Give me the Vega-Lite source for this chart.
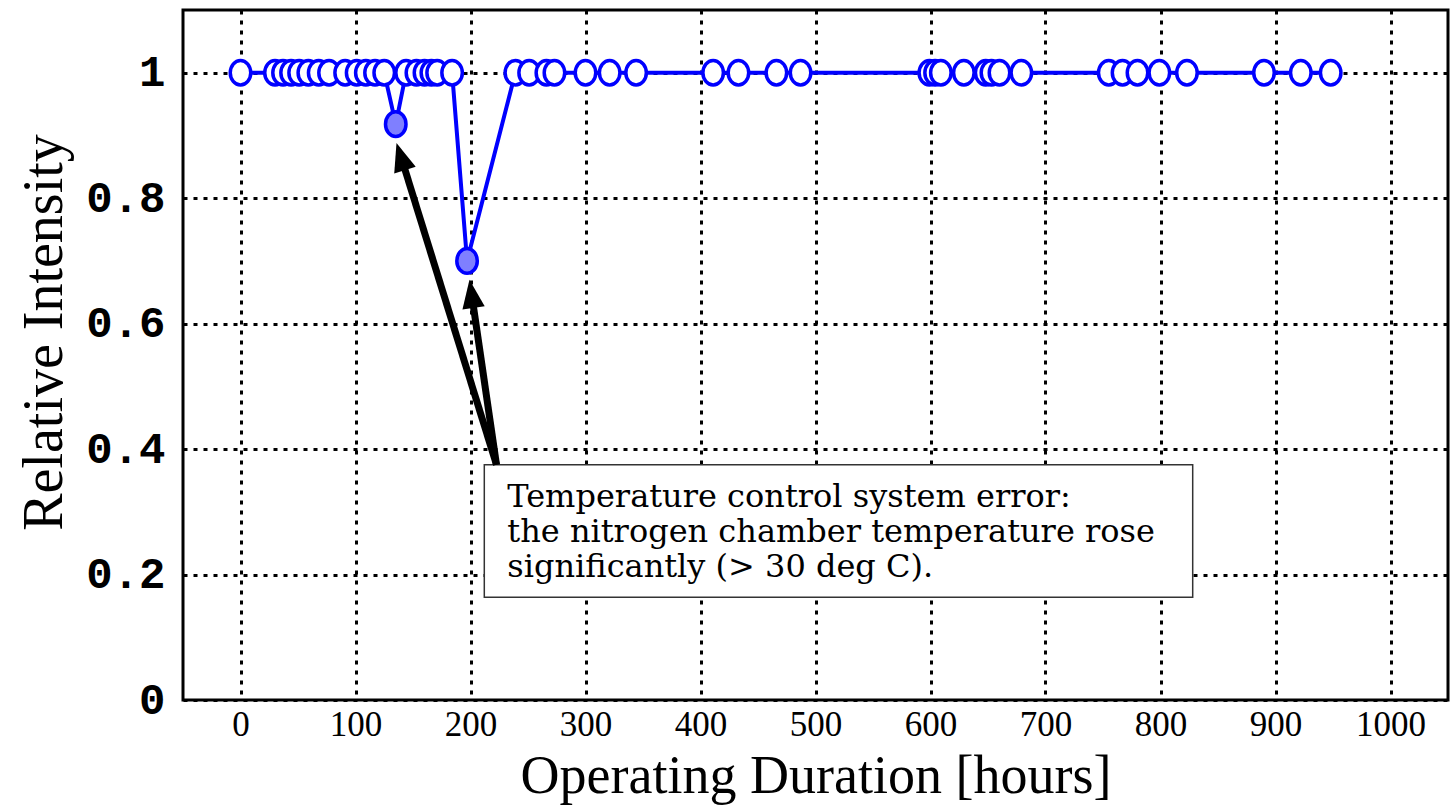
{
  "$schema": "https://vega.github.io/schema/vega-lite/v6.json",
  "width": 1265,
  "height": 690,
  "autosize": {"type": "none"},
  "padding": {"left": 183, "top": 10, "right": 2, "bottom": 105},
  "background": "white",
  "config": {
    "view": {"stroke": "black", "strokeWidth": 3},
    "axis": {
      "grid": true,
      "gridColor": "black",
      "gridDash": [4, 6],
      "gridWidth": 3,
      "gridOpacity": 1,
      "ticks": false,
      "domain": false,
      "labelColor": "black",
      "titleColor": "black",
      "titleFontWeight": "normal"
    }
  },
  "datasets": {
    "series": [
      {"hours": 0, "intensity": 1, "kind": "normal"},
      {"hours": 30, "intensity": 1, "kind": "normal"},
      {"hours": 37, "intensity": 1, "kind": "normal"},
      {"hours": 44, "intensity": 1, "kind": "normal"},
      {"hours": 51, "intensity": 1, "kind": "normal"},
      {"hours": 59, "intensity": 1, "kind": "normal"},
      {"hours": 68, "intensity": 1, "kind": "normal"},
      {"hours": 77, "intensity": 1, "kind": "normal"},
      {"hours": 91, "intensity": 1, "kind": "normal"},
      {"hours": 101, "intensity": 1, "kind": "normal"},
      {"hours": 109, "intensity": 1, "kind": "normal"},
      {"hours": 117, "intensity": 1, "kind": "normal"},
      {"hours": 125, "intensity": 1, "kind": "normal"},
      {"hours": 135, "intensity": 0.918, "kind": "drop"},
      {"hours": 144, "intensity": 1, "kind": "normal"},
      {"hours": 153, "intensity": 1, "kind": "normal"},
      {"hours": 160, "intensity": 1, "kind": "normal"},
      {"hours": 166, "intensity": 1, "kind": "normal"},
      {"hours": 171, "intensity": 1, "kind": "normal"},
      {"hours": 184, "intensity": 1, "kind": "normal"},
      {"hours": 197, "intensity": 0.7, "kind": "drop"},
      {"hours": 239, "intensity": 1, "kind": "normal"},
      {"hours": 251, "intensity": 1, "kind": "normal"},
      {"hours": 266, "intensity": 1, "kind": "normal"},
      {"hours": 273, "intensity": 1, "kind": "normal"},
      {"hours": 300, "intensity": 1, "kind": "normal"},
      {"hours": 321, "intensity": 1, "kind": "normal"},
      {"hours": 344, "intensity": 1, "kind": "normal"},
      {"hours": 411, "intensity": 1, "kind": "normal"},
      {"hours": 433, "intensity": 1, "kind": "normal"},
      {"hours": 466, "intensity": 1, "kind": "normal"},
      {"hours": 487, "intensity": 1, "kind": "normal"},
      {"hours": 599, "intensity": 1, "kind": "normal"},
      {"hours": 604, "intensity": 1, "kind": "normal"},
      {"hours": 609, "intensity": 1, "kind": "normal"},
      {"hours": 629, "intensity": 1, "kind": "normal"},
      {"hours": 648, "intensity": 1, "kind": "normal"},
      {"hours": 653, "intensity": 1, "kind": "normal"},
      {"hours": 660, "intensity": 1, "kind": "normal"},
      {"hours": 679, "intensity": 1, "kind": "normal"},
      {"hours": 755, "intensity": 1, "kind": "normal"},
      {"hours": 767, "intensity": 1, "kind": "normal"},
      {"hours": 780, "intensity": 1, "kind": "normal"},
      {"hours": 799, "intensity": 1, "kind": "normal"},
      {"hours": 823, "intensity": 1, "kind": "normal"},
      {"hours": 890, "intensity": 1, "kind": "normal"},
      {"hours": 922, "intensity": 1, "kind": "normal"},
      {"hours": 948, "intensity": 1, "kind": "normal"}
    ]
  },
  "encoding": {
    "x": {
      "field": "hours",
      "type": "quantitative",
      "scale": {"domain": [-50, 1050], "nice": false, "zero": false},
      "axis": {
        "title": "Operating Duration [hours]",
        "values": [0, 100, 200, 300, 400, 500, 600, 700, 800, 900, 1000],
        "format": "d",
        "labelFont": "Liberation Serif",
        "labelFontSize": 35,
        "labelBaseline": "top",
        "labelPadding": 7,
        "titleFont": "Liberation Serif",
        "titleFontSize": 54,
        "titleBaseline": "alphabetic",
        "titleY": 92
      }
    },
    "y": {
      "field": "intensity",
      "type": "quantitative",
      "scale": {"domain": [0, 1.1], "nice": false},
      "axis": {
        "title": "Relative Intensity",
        "values": [0, 0.2, 0.4, 0.6, 0.8, 1],
        "format": "~g",
        "labelFont": "Liberation Mono",
        "labelFontSize": 44,
        "labelFontWeight": "bold",
        "labelPadding": 18,
        "titleFont": "Liberation Serif",
        "titleFontSize": 56,
        "titleAngle": -90,
        "titleAlign": "center",
        "titleBaseline": "middle",
        "titleX": -139,
        "titleY": 322
      }
    }
  },
  "layer": [
    {
      "data": {"values": [{"x1": 212, "x2": 828, "y1": 0.164, "y2": 0.375}]},
      "mark": {"type": "rect", "fill": "white", "stroke": "#333333", "strokeWidth": 1.5},
      "encoding": {
        "x": {"field": "x1", "type": "quantitative"},
        "x2": {"field": "x2"},
        "y": {"field": "y1", "type": "quantitative"},
        "y2": {"field": "y2"}
      }
    },
    {
      "data": {"values": [{"x": 232, "y": 0.347, "label": "Temperature control system error:\nthe nitrogen chamber temperature rose\nsignificantly (> 30 deg C)."}]},
      "mark": {"type": "text", "align": "left", "baseline": "top", "font": "DejaVu Serif", "fontSize": 32, "lineBreak": "\n", "lineHeight": 35, "color": "black"},
      "encoding": {
        "x": {"field": "x", "type": "quantitative"},
        "y": {"field": "y", "type": "quantitative"},
        "text": {"field": "label"}
      }
    },
    {
      "data": {"values": [
        {"x": 222.6, "y": 0.375, "xe": 140.9, "ye": 0.858},
        {"x": 222.6, "y": 0.375, "xe": 201.7, "ye": 0.638}
      ]},
      "mark": {"type": "rule", "color": "black", "strokeWidth": 7},
      "encoding": {
        "x": {"field": "x", "type": "quantitative"},
        "y": {"field": "y", "type": "quantitative"},
        "x2": {"field": "xe"},
        "y2": {"field": "ye"}
      }
    },
    {
      "data": {"values": [{"x": 135.65, "y": 0.888}]},
      "mark": {"type": "point", "shape": "M0,0L0.75,1.9L-0.75,1.9Z", "size": 900, "filled": true, "color": "black", "opacity": 1, "angle": -17.3},
      "encoding": {
        "x": {"field": "x", "type": "quantitative"},
        "y": {"field": "y", "type": "quantitative"}
      }
    },
    {
      "data": {"values": [{"x": 199.1, "y": 0.670}]},
      "mark": {"type": "point", "shape": "M0,0L0.75,1.9L-0.75,1.9Z", "size": 900, "filled": true, "color": "black", "opacity": 1, "angle": -8.3},
      "encoding": {
        "x": {"field": "x", "type": "quantitative"},
        "y": {"field": "y", "type": "quantitative"}
      }
    },
    {
      "data": {"name": "series"},
      "mark": {"type": "line", "color": "#0000ff", "strokeWidth": 4},
      "encoding": {}
    },
    {
      "data": {"name": "series"},
      "mark": {"type": "point", "shape": "M1,0A1,1.2 0 1,1 -1,0A1,1.2 0 1,1 1,0Z", "size": 420, "stroke": "#0000ff", "strokeWidth": 3.5, "opacity": 1},
      "encoding": {
        "fill": {
          "field": "kind",
          "type": "nominal",
          "scale": {"domain": ["normal", "drop"], "range": ["white", "#7f7fff"]},
          "legend": null
        }
      }
    }
  ]
}
